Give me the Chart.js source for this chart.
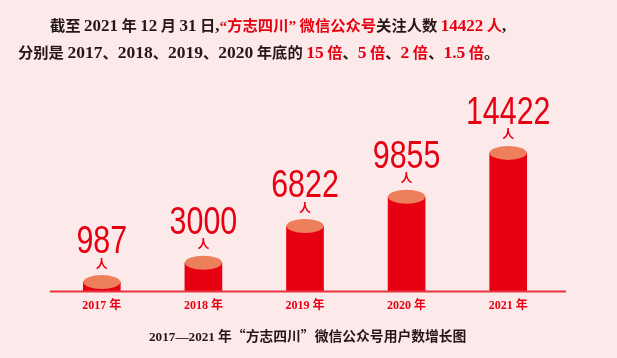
<!DOCTYPE html>
<html>
<head>
<meta charset="utf-8">
<script src="https://cdn.jsdelivr.net/npm/chart.js@4/dist/chart.umd.min.js"></script>
<style>
  html, body { margin: 0; padding: 0; }
  body { width: 617px; height: 358px; background: #FCEAEA; position: relative; overflow: hidden; }
  #wrap { position: absolute; left: 0; top: 0; width: 617px; height: 358px; }
  .t { position: absolute; white-space: nowrap; font-weight: bold; color: #231815;
       font-family: "Noto Sans CJK SC", sans-serif; }
  .n { font-family: "Liberation Serif", serif; font-size: 17.5px; }
  .q { font-family: "Liberation Serif", serif; }
  .r { color: #E60012; }
  #l1 { left: 50px; top: 13px; font-size: 15.3px; }
  #l1 .n { font-size: 17px; }
  #l2 { left: 18px; top: 40px; font-size: 15.3px; }
  #cap { left: 149px; top: 325px; font-size: 13.8px; }
  #cap .n { font-size: 13.2px; }
</style>
</head>
<body>
<div id="wrap"><canvas id="c" width="617" height="358"></canvas></div>
<div class="t" id="l1">截至 <span class="n">2021</span> 年 <span class="n">12</span> 月 <span class="n">31</span> 日<span class="n">,</span><span class="r"><span class="q">“</span>方志四川<span class="q">”</span> 微信公众号</span>关注人数 <span class="r"><span class="n">14422</span> 人</span><span class="n">,</span></div>
<div class="t" id="l2">分别是 <span class="n">2017</span>、<span class="n">2018</span>、<span class="n">2019</span>、<span class="n">2020</span> 年底的 <span class="r"><span class="n">15</span> 倍</span>、<span class="r"><span class="n">5</span> 倍</span>、<span class="r"><span class="n">2</span> 倍</span>、<span class="r"><span class="n">1.5</span> 倍</span>。</div>
<div class="t" id="cap"><span class="n">2017—2021</span> 年“方志四川”微信公众号用户数增长图</div>
<script>
const categories = ["2017 年", "2018 年", "2019 年", "2020 年", "2021 年"];
const followers = [987, 3000, 6822, 9855, 14422];
const unitLabel = "人";

const BAR_RED = "#E60012";
const TOP_ORANGE = "#EE7F5B";
const LINE_RED = "#E8343F";

const cylinderPlugin = {
  id: "cylinder",
  afterDatasetsDraw(chart) {
    const ctx = chart.ctx;
    const meta = chart.getDatasetMeta(0);
    const area = chart.chartArea;
    ctx.save();
    ctx.strokeStyle = LINE_RED;
    ctx.lineWidth = 2;
    ctx.beginPath();
    ctx.moveTo(area.left - 1, area.bottom);
    ctx.lineTo(area.right + 7, area.bottom);
    ctx.stroke();
    meta.data.forEach((bar, i) => {
      const w = bar.width / 2;
      ctx.fillStyle = TOP_ORANGE;
      ctx.beginPath();
      ctx.ellipse(bar.x, bar.y, w, 7, 0, 0, Math.PI * 2);
      ctx.fill();
      ctx.fillStyle = BAR_RED;
      ctx.textAlign = "center";
      ctx.textBaseline = "alphabetic";
      ctx.font = '38px "Liberation Sans", sans-serif';
      ctx.save();
      ctx.translate(bar.x, bar.y - 29);
      ctx.scale(0.8, 1);
      ctx.fillText(String(followers[i]), 0, 0);
      ctx.restore();
      ctx.font = 'bold 12px "Noto Sans CJK SC", sans-serif';
      ctx.textBaseline = "middle";
      ctx.fillText(unitLabel, bar.x, bar.y - 18);
    });
    ctx.restore();
  }
};

new Chart(document.getElementById("c"), {
  type: "bar",
  data: {
    labels: categories,
    datasets: [{
      data: followers,
      backgroundColor: BAR_RED,
      borderWidth: 0,
      barThickness: 37
    }]
  },
  options: {
    responsive: false,
    animation: false,
    events: [],
    layout: { padding: { left: 51, right: 58, top: 80, bottom: 38 } },
    plugins: { legend: { display: false }, tooltip: { enabled: false }, title: { display: false } },
    scales: {
      x: {
        grid: { display: false, drawTicks: false },
        border: { display: false },
        ticks: {
          color: BAR_RED,
          padding: 7,
          font: { family: '"Liberation Serif", "Noto Sans CJK SC", serif', size: 12, weight: "bold" }
        }
      },
      y: {
        display: false,
        min: 0,
        max: 22000
      }
    }
  },
  plugins: [cylinderPlugin]
});
</script>
</body>
</html>
